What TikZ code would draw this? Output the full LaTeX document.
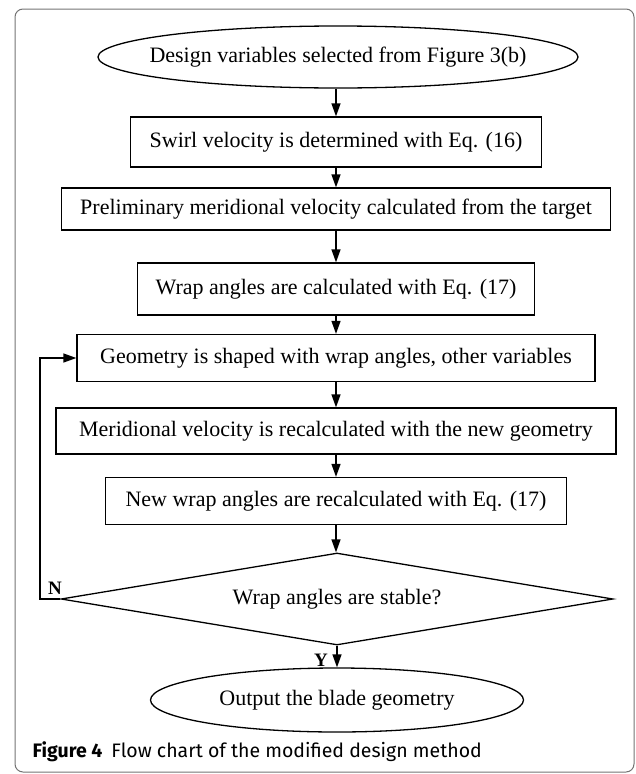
\documentclass[tikz,border=0pt]{standalone}
\usepackage{fontspec}
\setmainfont{Liberation Serif}
\newfontfamily\capfont{Fira Sans}
\usetikzlibrary{arrows.meta,shapes.geometric,positioning}
\tikzset{
  sqproc/.style={ draw, inner sep=0pt, font=\fontsize{22}{26}\selectfont }
}
\tikzset{
  ellterm/.style={ draw, ellipse, inner xsep=-60pt, inner ysep=0pt, font=\fontsize{22}{26}\selectfont }
}
\tikzset{
  dmdtest/.style={ draw, diamond, aspect=6, inner sep=0pt, font=\fontsize{22}{26}\selectfont }
}
\tikzset{
  yntag/.style={ inner sep=0pt, font=\fontsize{19}{22}\selectfont\bfseries }
}

\begin{document}
\begin{tikzpicture}[x=1pt, y=-1pt, line width=1.3pt, >={Triangle[length=13pt,width=9pt]}]
  \useasboundingbox (0,0) rectangle (636,774);
  \draw[black!55, line width=1pt, rounded corners=8pt] (15,9) rectangle (634,772);

  \node[ellterm, minimum width=480pt, minimum height=62pt] (e0) at (338,57) {Design variables selected from Figure 3(b)};
  \node[sqproc, minimum width=411pt, minimum height=50pt] (b1) at (336,142) {Swirl velocity is determined with Eq. (16)};
  \draw[->] (e0.south -| b1.north) -- (b1);

  \node[sqproc, minimum width=549pt, minimum height=42pt] (b2) at (336,209) {Preliminary meridional velocity calculated from the target};
  \draw[->] (b1) -- (b2);

  \node[sqproc, minimum width=397pt, minimum height=52pt] (b3) at (336,289) {Wrap angles are calculated with Eq. (17)};
  \draw[->] (b2) -- (b3);

  \node[sqproc, minimum width=518pt, minimum height=47pt] (b4) at (336,358) {Geometry is shaped with wrap angles, other variables};
  \draw[->] (b3) -- (b4);

  \node[sqproc, minimum width=560pt, minimum height=46pt] (b5) at (336,431) {Meridional velocity is recalculated with the new geometry};
  \draw[->] (b4) -- (b5);

  \node[sqproc, minimum width=461pt, minimum height=47pt] (b6) at (336,501) {New wrap angles are recalculated with Eq. (17)};
  \draw[->] (b5) -- (b6);

  \node[dmdtest, minimum width=552pt, minimum height=92pt] (d0) at (337,599) {Wrap angles are stable?};
  \draw[->] (b6) -- (b6 |- d0.north);

  \node[ellterm, minimum width=373pt, minimum height=64pt] (e1) at (337,700) {Output the blade geometry};
  \draw[->] (d0) -- (e1);
  \node[yntag] (ty) at (321,660) {Y};

  % loop back when not stable
  \coordinate (fb) at (40,599);
  \draw[->] (d0.west) -- (fb) |- (b4.west);
  \node[yntag] (tn) at (55,588) {N};

  \node[anchor=base west, inner sep=0pt, font=\capfont\fontsize{19.5}{23}\selectfont] (cap) at (32,757) {\textbf{Figure 4}\hspace{9pt}Flow chart of the modified design method};
\end{tikzpicture}
\end{document}
